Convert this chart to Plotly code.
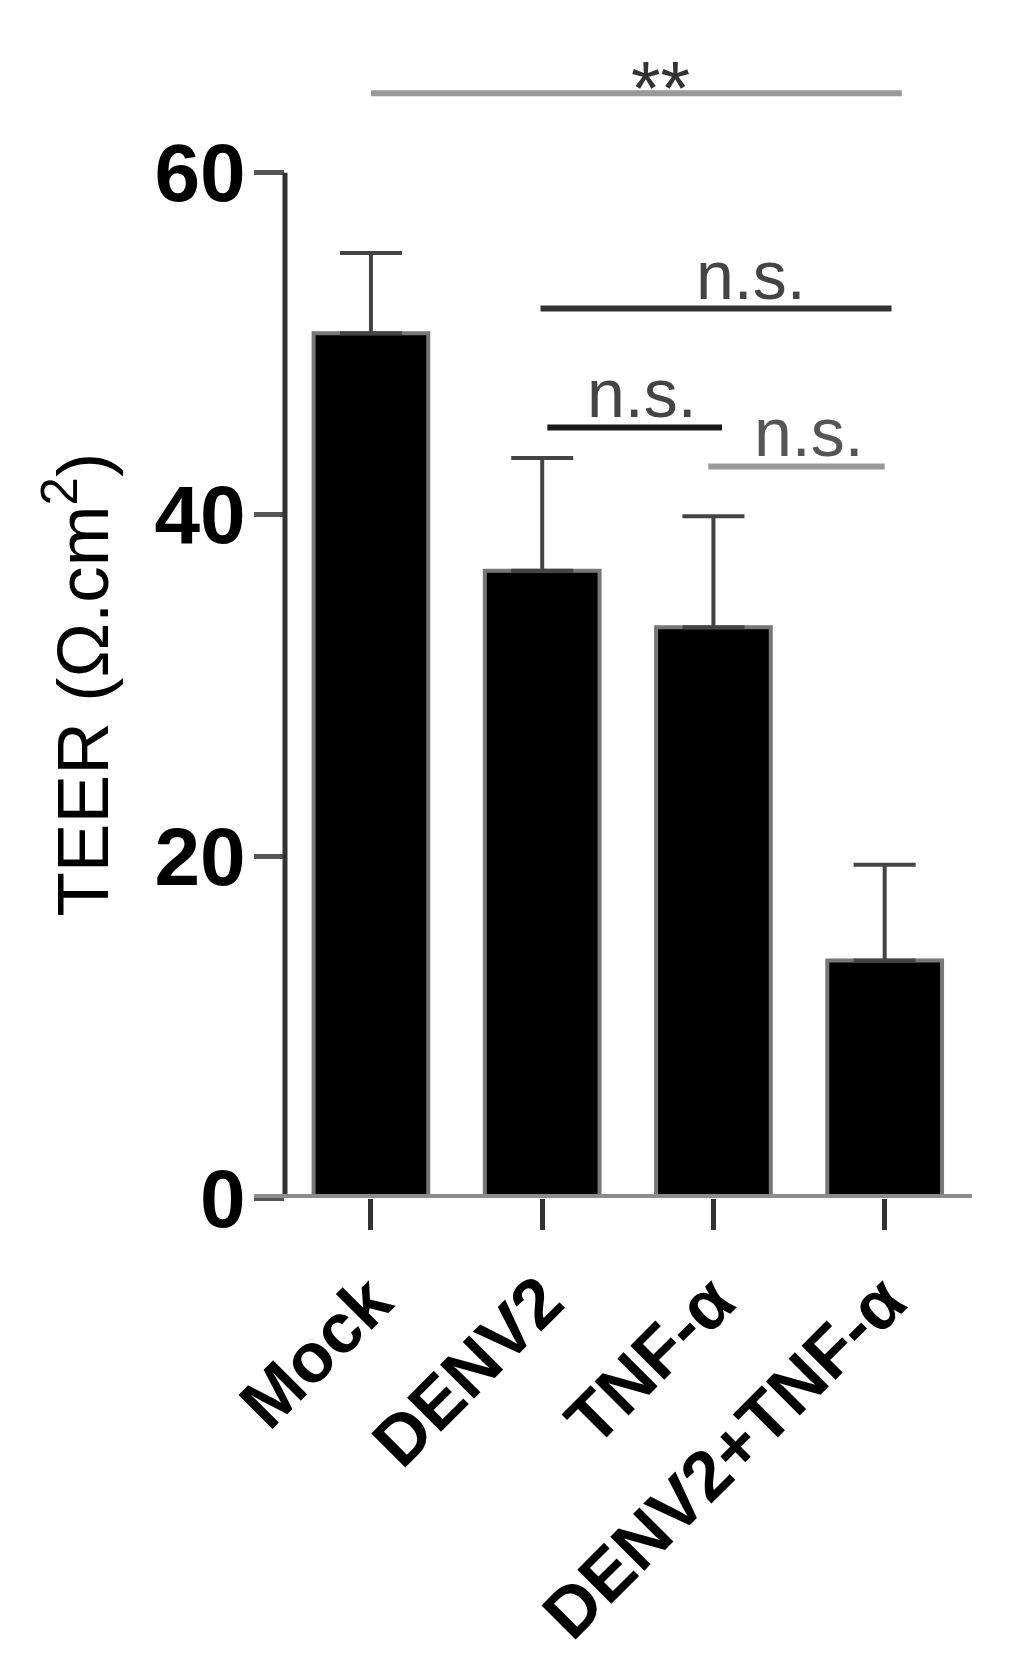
import plotly.graph_objects as go

# TEER per condition, mean + upper error (SEM)
groups = ["Mock", "DENV2", "TNF-α", "DENV2+TNF-α"]
teer_mean = [50.6, 36.7, 33.4, 13.9]
teer_err = [4.7, 6.6, 6.5, 5.6]

y_ticks = [0, 20, 40, 60]

# significance brackets (x in category units, y in TEER units)
sig_start = [0.0, 0.99, 1.03, 1.97]
sig_end = [3.10, 3.04, 2.05, 3.0]
sig_y = [64.64, 52.05, 45.08, 42.8]
sig_text = ["**", "n.s.", "n.s.", "n.s."]
sig_text_x = [1.69, 2.22, 1.58, 2.56]
sig_text_y = [65.0, 54.0, 47.1, 44.8]

FONT = "Liberation Sans, Arial, sans-serif"

fig = go.Figure()
fig.add_trace(go.Bar(
    x=groups, y=teer_mean, width=0.67,
    marker=dict(color="black", line=dict(color="#777777", width=4)),
    error_y=dict(type="data", symmetric=False, array=teer_err,
                 arrayminus=[0] * len(teer_err),
                 color="#444444", thickness=4, width=31),
))

# y axis line stops at 60
fig.add_shape(type="line", xref="paper", yref="y", x0=0, x1=0, y0=0, y1=60,
              line=dict(color="#333333", width=5))
# x axis line (runs a bit left of the y axis)
fig.add_shape(type="line", xref="paper", yref="y", x0=-0.045, x1=1, y0=0, y1=0,
              line=dict(color="#8c8c8c", width=8))

line_cols = ["#999999", "#333333", "#1a1a1a", "#999999"]
text_cols = ["#333333", "#444444", "#444444", "#555555"]
for i in range(len(sig_text)):
    fig.add_shape(type="line", xref="x", yref="y",
                  x0=sig_start[i], x1=sig_end[i], y0=sig_y[i], y1=sig_y[i],
                  line=dict(color=line_cols[i], width=6))
    fig.add_annotation(x=sig_text_x[i], y=sig_text_y[i], xref="x", yref="y",
                       text=sig_text[i], showarrow=False, yanchor="middle",
                       font=dict(family=FONT, size=76 if i == 0 else 68,
                                 color=text_cols[i]))

fig.add_annotation(x=-0.302, y=30, xref="paper", yref="y",
                   text="TEER (Ω.cm<sup>2</sup>)", textangle=-90,
                   showarrow=False, xanchor="center", yanchor="middle",
                   font=dict(family=FONT, size=73, color="black"))

fig.update_layout(
    width=1035, height=1667,
    margin=dict(l=277, r=71, t=45, b=477),
    plot_bgcolor="white", paper_bgcolor="white",
    showlegend=False,
    font=dict(family=FONT, color="black"),
)
fig.update_xaxes(
    range=[-0.502, 3.51], showline=False, showgrid=False, zeroline=False,
    ticks="outside", ticklen=31, tickwidth=5, tickcolor="#333333",
    tickangle=-45, ticklabelstandoff=2,
    tickfont=dict(family=FONT, size=70, color="black", weight="bold"),
)
fig.update_yaxes(
    range=[0, 67], tickvals=y_ticks, showline=False, showgrid=False,
    zeroline=False, ticks="outside", ticklen=30, tickwidth=5,
    tickcolor="#555555", ticklabelstandoff=-8,
    tickfont=dict(family=FONT, size=82, color="black", weight="bold"),
)

fig.write_html("out.html")
